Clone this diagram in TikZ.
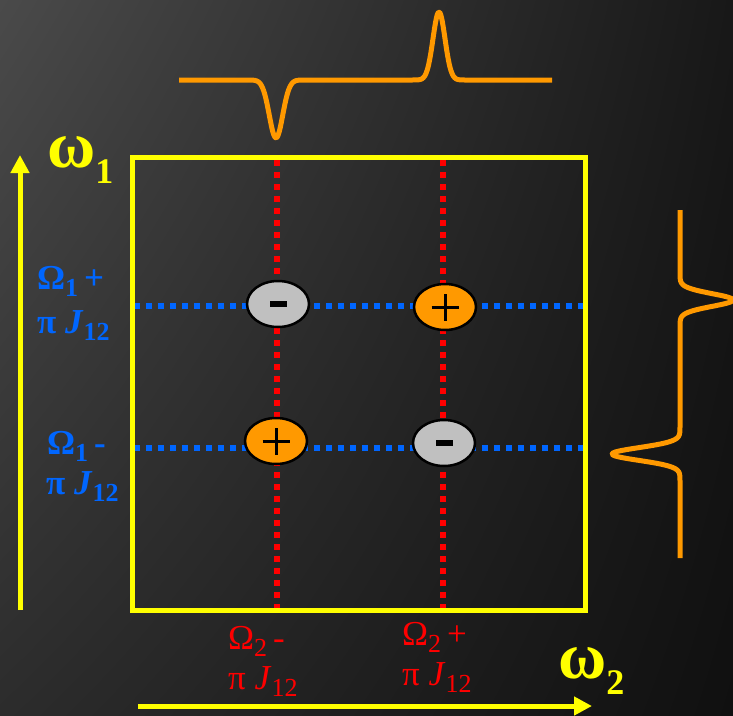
\documentclass[tikz,border=0pt]{standalone}
\usepackage{fontspec}
\setmainfont{Liberation Serif}
\usetikzlibrary{shapes.geometric,arrows.meta,shadings}
\definecolor{ylw}{HTML}{FFFF00}
\definecolor{orng}{HTML}{FF9900}
\definecolor{bluel}{HTML}{0066FF}
\definecolor{redl}{HTML}{FF0000}
\definecolor{grayc}{HTML}{C0C0C0}
\definecolor{bgul}{HTML}{4A4A4A}
\definecolor{bgur}{HTML}{181818}
\definecolor{bgll}{HTML}{2C2C2C}
\definecolor{bglr}{HTML}{101010}
\newcommand{\lowidx}[1]{\raisebox{-7pt}{\fontsize{26}{26}\selectfont #1}}
\newcommand{\omidx}[1]{\raisebox{-16pt}{\fontsize{36}{36}\selectfont #1}}
\tikzset{
  axisarrow/.style={draw=ylw,line width=5pt,-{Triangle[length=18pt,width=18pt]}},
  redline/.style={draw=redl,line width=6pt,dash pattern=on 6pt off 6pt},
  blueline/.style={draw=bluel,line width=6pt,dash pattern=on 6pt off 6pt},
  peak/.style={ellipse,draw=black,line width=2.5pt,minimum width=62pt,minimum height=46pt,inner sep=0pt},
  pospeak/.style={peak,fill=orng},
  negpeak/.style={peak,fill=grayc},
  sign/.style={draw=black,line width=3pt},
  minussign/.style={fill=black},
  spec/.style={draw=orng,line width=5pt,line join=round},
  bluelab/.style={text=bluel,font=\bfseries\fontsize{35}{35}\selectfont,inner sep=0pt,anchor=base west},
  redlab/.style={text=redl,font=\fontsize{35}{35}\selectfont,inner sep=0pt,anchor=base west},
  omlab/.style={text=ylw,font=\bfseries\fontsize{66}{66}\selectfont,inner sep=0pt,anchor=base west}
}
\begin{document}
\begin{tikzpicture}[x=1pt,y=-1pt]
\useasboundingbox (0,0) rectangle (733,715);
\shade[upper left=bgul,upper right=bgur,lower left=bgll,lower right=bglr]
  (0,0) rectangle (733,715);
% coordinates
\coordinate (r1t) at (277,160); \coordinate (r1b) at (277,608);
\coordinate (r2t) at (443,160); \coordinate (r2b) at (443,608);
\coordinate (b1l) at (134,305.5); \coordinate (b1r) at (583,305.5);
\coordinate (b2l) at (134,448); \coordinate (b2r) at (583,448);
\draw[redline] (r1t) -- (r1b);
\draw[redline] (r2t) -- (r2b);
\draw[blueline] (b1l) -- (b1r);
\draw[blueline] (b2l) -- (b2r);
% peaks
\node[negpeak] (p11) at (278,304) {};
\node[pospeak] (p12) at (445,307) {};
\node[pospeak] (p21) at (276,441) {};
\node[negpeak] (p22) at (444,443) {};
\fill[minussign] ([xshift=-8.5pt,yshift=-3pt]p11.center) rectangle ([xshift=8.5pt,yshift=3pt]p11.center);
\fill[minussign] ([xshift=-8.5pt,yshift=-3pt]p22.center) rectangle ([xshift=8.5pt,yshift=3pt]p22.center);
\draw[sign] ([xshift=-13.5pt]p12.center) -- ([xshift=13.5pt]p12.center);
\draw[sign] ([yshift=-13.5pt]p12.center) -- ([yshift=13.5pt]p12.center);
\draw[sign] ([xshift=-13.5pt]p21.center) -- ([xshift=13.5pt]p21.center);
\draw[sign] ([yshift=-13.5pt]p21.center) -- ([yshift=13.5pt]p21.center);
% frame
\node[draw=ylw,line width=5pt,minimum width=453pt,minimum height=453pt,inner sep=0pt] (frame) at (358.5,383.5) {};
% axes
\coordinate (ay0) at (20,610); \coordinate (ay1) at (20,155);
\coordinate (ax0) at (138,706); \coordinate (ax1) at (592,706);
\draw[axisarrow] (ay0) -- (ay1);
\draw[axisarrow] (ax0) -- (ax1);
\node[omlab] (w1) at (47,167) {ω\omidx{1}};
\node[omlab] (w2) at (558,678) {ω\omidx{2}};
% labels
\node[bluelab] (l1a) at (37,289) {Ω\lowidx{1}\,+};
\node[bluelab] (l1b) at (37,333) {π \textit{J}\lowidx{12}};
\node[bluelab] (l2a) at (47,454) {Ω\lowidx{1}\,-};
\node[bluelab] (l2b) at (46,494) {π \textit{J}\lowidx{12}};
\node[redlab] (l3a) at (228,649) {Ω\lowidx{2}\,-};
\node[redlab] (l3b) at (228,689) {π \textit{J}\lowidx{12}};
\node[redlab] (l4a) at (402,645) {Ω\lowidx{2}\,+};
\node[redlab] (l4b) at (402,685) {π \textit{J}\lowidx{12}};
% spectra
\draw[spec] plot[domain=179:552,samples=300,smooth] (\x,{80+58*exp(-((\x-276)/9.5)^2)-68*exp(-((\x-439)/8.5)^2)});
\draw[spec] plot[domain=210:558,samples=300,smooth] ({680+53*exp(-((\x-300)/9)^2)-68*exp(-((\x-454)/9)^2)},\x);
\end{tikzpicture}
\end{document}
